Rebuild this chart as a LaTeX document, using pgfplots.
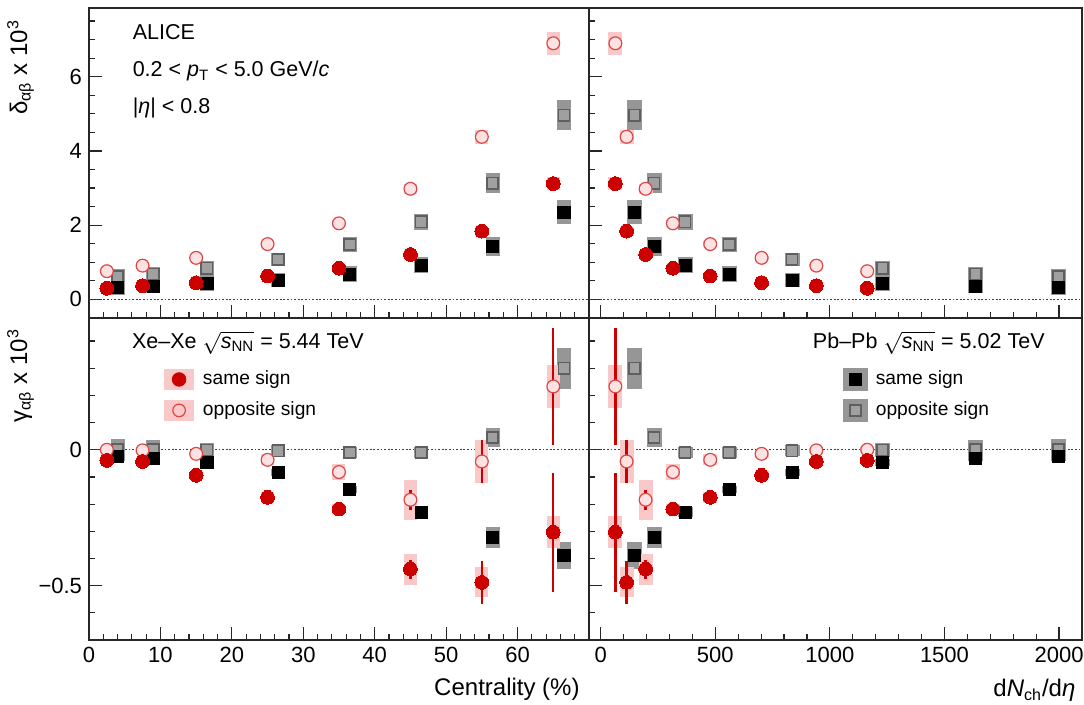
\documentclass[border=0pt]{standalone}
\usepackage{pgfplots}
\pgfplotsset{compat=1.18}
\usepackage{pgfplotstable}
\usepackage{amsmath}
\usepackage{fontspec}
\setmainfont{Liberation Sans}

\definecolor{ssred}{RGB}{205,0,0}
\definecolor{pinkbox}{RGB}{249,200,200}
\definecolor{osred}{RGB}{222,70,70}
\definecolor{osfill}{RGB}{252,226,226}
\definecolor{graybox}{RGB}{150,150,150}
\definecolor{grayfill}{RGB}{160,160,160}
\definecolor{grayedge}{RGB}{95,95,95}

% Xe-Xe: centrality, dNch/deta, delta SS, sys, delta OS, sys, gamma SS, stat, sys, gamma OS, stat, sys
\pgfplotstableread{
cent dn dss dsssys dos dossys gss gssstat gsssys gos gosstat gossys
2.5 1163 0.30 0.03 0.76 0.04 -0.039 0.005 0.010  0.000 0.005 0.010
7.5  941 0.37 0.03 0.91 0.05 -0.043 0.006 0.010 -0.002 0.006 0.010
15   702 0.45 0.04 1.12 0.06 -0.094 0.008 0.015 -0.015 0.008 0.015
25   478 0.63 0.05 1.49 0.08 -0.175 0.010 0.020 -0.037 0.010 0.020
35   315 0.84 0.06 2.05 0.10 -0.218 0.015 0.020 -0.082 0.015 0.030
45   196 1.21 0.08 2.98 0.14 -0.439 0.035 0.057 -0.184 0.037 0.074
55   113 1.84 0.12 4.38 0.18 -0.488 0.080 0.055 -0.043 0.080 0.078
65    64 3.12 0.18 6.90 0.31 -0.303 0.219 0.060  0.233 0.216 0.080
}\xexe

% Pb-Pb: centrality (plotted), dNch/deta, delta SS, sys, delta OS, sys, gamma SS, sys, gamma OS, sys
\pgfplotstableread{
cent dn dss dsssys dos dossys gss gsssys gos gossys
4    1997 0.32 0.20 0.61 0.20 -0.025 0.012  0.000 0.040
9    1636 0.36 0.20 0.68 0.20 -0.031 0.012  0.000 0.035
16.5 1230 0.43 0.20 0.84 0.20 -0.047 0.012 -0.001 0.025
26.5  835 0.52 0.19 1.08 0.18 -0.083 0.012 -0.004 0.020
36.5  561 0.68 0.22 1.48 0.20 -0.147 0.012 -0.010 0.020
46.5  368 0.92 0.22 2.09 0.22 -0.230 0.018 -0.010 0.020
56.5  233 1.42 0.26 3.13 0.27 -0.322 0.039  0.045 0.034
66.5  147 2.35 0.32 4.96 0.40 -0.389 0.048  0.300 0.075
}\pbpb

\pgfplotsset{
  panel/.style={scale only axis,
    axis line style={line width=0.8pt,black!85},
    tick align=inside, xtick pos=left, ytick pos=left,
    major tick length=6.5pt, minor tick length=3.2pt,
    every tick/.style={black!85,line width=0.6pt},
    tick label style={font=\fontsize{11}{13}\selectfont},
    /pgf/number format/assume math mode=true,
    /pgf/number format/1000 sep={}},
  zeroline/.style={forget plot, mark=none, black!75, line width=0.6pt, dash pattern=on 0.9pt off 0.9pt},
  sysbox/.style 2 args={forget plot, only marks, mark=none,
    /pgfplots/error bars/y dir=both, /pgfplots/error bars/y explicit,
    /pgfplots/error bars/error mark=none,
    /pgfplots/error bars/error bar style={line width=#1, draw=#2, solid}},
  statbar/.style={forget plot, only marks, mark=none,
    /pgfplots/error bars/y dir=both, /pgfplots/error bars/y explicit,
    /pgfplots/error bars/error mark=none,
    /pgfplots/error bars/error bar style={line width=1.2pt, draw=ssred, solid}},
  ssm/.style={forget plot, only marks, mark=*, mark size=3.45pt, mark options={draw=ssred, fill=ssred, line width=0pt}},
  osm/.style={forget plot, only marks, mark=*, mark size=3.2pt, mark options={draw=osred, fill=osfill, line width=0.6pt}},
  pbss/.style={forget plot, only marks, mark=square*, mark size=3.05pt, mark options={draw=black, fill=black}},
  pbos/.style={forget plot, only marks, mark=square*, mark size=2.8pt, mark options={draw=grayedge, fill=grayfill, line width=0.8pt}},
}

\begin{document}
\begin{tikzpicture}
\path[use as bounding box] (0,0) rectangle (542pt,352.5pt);

% ---------------- top left: delta vs centrality
\begin{axis}[panel, at={(44.5pt,193.5pt)}, anchor=south west, width=250pt, height=155pt,
  xmin=0, xmax=70, ymin=-0.5, ymax=7.85,
  xtick={0,10,...,60}, xticklabels={}, minor xtick={0,2,...,70},
  ytick={0,2,4,6}, minor ytick={-0.5,0,...,7.5}]
\addplot[zeroline] coordinates {(0,0) (70,0)};
\addplot[sysbox={7pt}{graybox}] table[x=cent,y=dos,y error=dossys]{\pbpb};
\addplot[sysbox={7pt}{graybox}] table[x=cent,y=dss,y error=dsssys]{\pbpb};
\addplot[sysbox={6.5pt}{pinkbox}] table[x=cent,y=dos,y error=dossys]{\xexe};
\addplot[sysbox={6.5pt}{pinkbox}] table[x=cent,y=dss,y error=dsssys]{\xexe};
\addplot[pbos] table[x=cent,y=dos]{\pbpb};
\addplot[pbss] table[x=cent,y=dss]{\pbpb};
\addplot[osm] table[x=cent,y=dos]{\xexe};
\addplot[ssm] table[x=cent,y=dss]{\xexe};
\node[anchor=base west, font=\fontsize{10.75}{12}\selectfont] at (rel axis cs:0.0734,0.897) {ALICE};
\node[anchor=base west, font=\fontsize{10.75}{12}\selectfont] at (rel axis cs:0.0734,0.778) {0.2 < \textit{p}\textsubscript{T} < 5.0 GeV/\textit{c}};
\node[anchor=base west, font=\fontsize{10.75}{12}\selectfont] at (rel axis cs:0.0734,0.660) {|\textit{η}| < 0.8};
\end{axis}

% ---------------- top right: delta vs dNch/deta
\begin{axis}[panel, at={(294.5pt,193.5pt)}, anchor=south west, width=246.5pt, height=155pt,
  xmin=-51, xmax=2100, ymin=-0.5, ymax=7.85,
  xtick={0,500,...,2000}, xticklabels={}, minor xtick={0,100,...,2100},
  ytick={0,2,4,6}, yticklabels={}, minor ytick={-0.5,0,...,7.5}]
\addplot[zeroline] coordinates {(-51,0) (2100,0)};
\addplot[sysbox={7.5pt}{graybox}] table[x=dn,y=dos,y error=dossys]{\pbpb};
\addplot[sysbox={7.5pt}{graybox}] table[x=dn,y=dss,y error=dsssys]{\pbpb};
\addplot[sysbox={7pt}{pinkbox}] table[x=dn,y=dos,y error=dossys]{\xexe};
\addplot[sysbox={7pt}{pinkbox}] table[x=dn,y=dss,y error=dsssys]{\xexe};
\addplot[pbos] table[x=dn,y=dos]{\pbpb};
\addplot[pbss] table[x=dn,y=dss]{\pbpb};
\addplot[osm] table[x=dn,y=dos]{\xexe};
\addplot[ssm] table[x=dn,y=dss]{\xexe};
\end{axis}

% ---------------- bottom left: gamma vs centrality
\begin{axis}[panel, at={(44.5pt,32.5pt)}, anchor=south west, width=250pt, height=161pt,
  xmin=0, xmax=70, ymin=-0.7, ymax=0.485,
  xtick={0,10,...,60}, minor xtick={0,2,...,70},
  ytick={-0.5,0}, yticklabels={−0.5,0},
  minor ytick={-0.6,-0.4,-0.3,-0.2,-0.1,0.1,0.2,0.3,0.4},
  legend style={draw=none, fill=none, inner sep=0pt, at={(0.15,0.849)}, anchor=north west,
    font=\fontsize{9.6}{11}\selectfont, row sep=3pt,
    /tikz/every odd column/.append style={column sep=2.6pt}},
  legend cell align=left]
\addplot[zeroline] coordinates {(0,0) (70,0)};
\addplot[sysbox={7pt}{graybox}] table[x=cent,y=gos,y error=gossys]{\pbpb};
\addplot[sysbox={7pt}{graybox}] table[x=cent,y=gss,y error=gsssys]{\pbpb};
\addplot[sysbox={6.5pt}{pinkbox}] table[x=cent,y=gos,y error=gossys]{\xexe};
\addplot[sysbox={6.5pt}{pinkbox}] table[x=cent,y=gss,y error=gsssys]{\xexe};
\addplot[statbar] table[x=cent,y=gos,y error=gosstat]{\xexe};
\addplot[statbar] table[x=cent,y=gss,y error=gssstat]{\xexe};
\addplot[pbos] table[x=cent,y=gos]{\pbpb};
\addplot[pbss] table[x=cent,y=gss]{\pbpb};
\addplot[osm] table[x=cent,y=gos]{\xexe};
\addplot[ssm] table[x=cent,y=gss]{\xexe};
\addlegendimage{legend image code/.code={\fill[pinkbox] (0pt,-5.2pt) rectangle (14.3pt,5.2pt); \fill[ssred] (7.15pt,0pt) circle (3.4pt);}}
\addlegendentry{same sign}
\addlegendimage{legend image code/.code={\fill[pinkbox] (0pt,-5.2pt) rectangle (14.3pt,5.2pt); \draw[osred, line width=0.6pt] (7.15pt,0pt) circle (3.15pt);}}
\addlegendentry{opposite sign}
\node[anchor=base west, font=\fontsize{10.75}{12}\selectfont] at (rel axis cs:0.072,0.906) {Xe–Xe $\sqrt{\textit{s}_{\text{NN}}}$ = 5.44 TeV};
\end{axis}

% ---------------- bottom right: gamma vs dNch/deta
\begin{axis}[panel, at={(294.5pt,32.5pt)}, anchor=south west, width=246.5pt, height=161pt,
  xmin=-51, xmax=2100, ymin=-0.7, ymax=0.485,
  xtick={0,500,...,2000}, minor xtick={0,100,...,2100},
  ytick={-0.5,0}, yticklabels={},
  minor ytick={-0.6,-0.4,-0.3,-0.2,-0.1,0.1,0.2,0.3,0.4},
  legend style={draw=none, fill=none, inner sep=0pt, at={(0.5146,0.849)}, anchor=north west,
    font=\fontsize{9.6}{11}\selectfont, row sep=3pt,
    /tikz/every odd column/.append style={column sep=2pt}},
  legend cell align=left]
\addplot[zeroline] coordinates {(-51,0) (2100,0)};
\addplot[sysbox={7.5pt}{graybox}] table[x=dn,y=gos,y error=gossys]{\pbpb};
\addplot[sysbox={7.5pt}{graybox}] table[x=dn,y=gss,y error=gsssys]{\pbpb};
\addplot[sysbox={7pt}{pinkbox}] table[x=dn,y=gos,y error=gossys]{\xexe};
\addplot[sysbox={7pt}{pinkbox}] table[x=dn,y=gss,y error=gsssys]{\xexe};
\addplot[statbar] table[x=dn,y=gos,y error=gosstat]{\xexe};
\addplot[statbar] table[x=dn,y=gss,y error=gssstat]{\xexe};
\addplot[pbos] table[x=dn,y=gos]{\pbpb};
\addplot[pbss] table[x=dn,y=gss]{\pbpb};
\addplot[osm] table[x=dn,y=gos]{\xexe};
\addplot[ssm] table[x=dn,y=gss]{\xexe};
\addlegendimage{legend image code/.code={\fill[graybox] (0pt,-5.3pt) rectangle (12pt,5.3pt); \fill[black] (3pt,-3pt) rectangle (9pt,3pt);}}
\addlegendentry{same sign}
\addlegendimage{legend image code/.code={\fill[graybox] (0pt,-5.3pt) rectangle (12pt,5.3pt); \filldraw[fill=grayfill, draw=grayedge, line width=0.8pt] (3.2pt,-2.8pt) rectangle (8.8pt,2.8pt);}}
\addlegendentry{opposite sign}
\node[anchor=base west, font=\fontsize{10.75}{12}\selectfont] at (rel axis cs:0.44,0.906) {Pb–Pb $\sqrt{\textit{s}_{\text{NN}}}$ = 5.02 TeV};
\end{axis}

% axis titles
\node[rotate=90, anchor=base east, font=\fontsize{12}{14}\selectfont] at (13.5pt,346pt) {δ\textsubscript{αβ} x 10\textsuperscript{3}};
\node[rotate=90, anchor=base east, font=\fontsize{12}{14}\selectfont] at (13.5pt,191.5pt) {γ\textsubscript{αβ} x 10\textsuperscript{3}};
\node[anchor=base east, font=\fontsize{12}{14}\selectfont, inner sep=0pt] at (290pt,4.5pt) {Centrality (\%)};
\node[anchor=base east, font=\fontsize{12}{14}\selectfont, inner sep=0pt] at (537.9pt,4pt) {d\textit{N}\textsubscript{ch}/d\textit{η}};
\end{tikzpicture}
\end{document}
